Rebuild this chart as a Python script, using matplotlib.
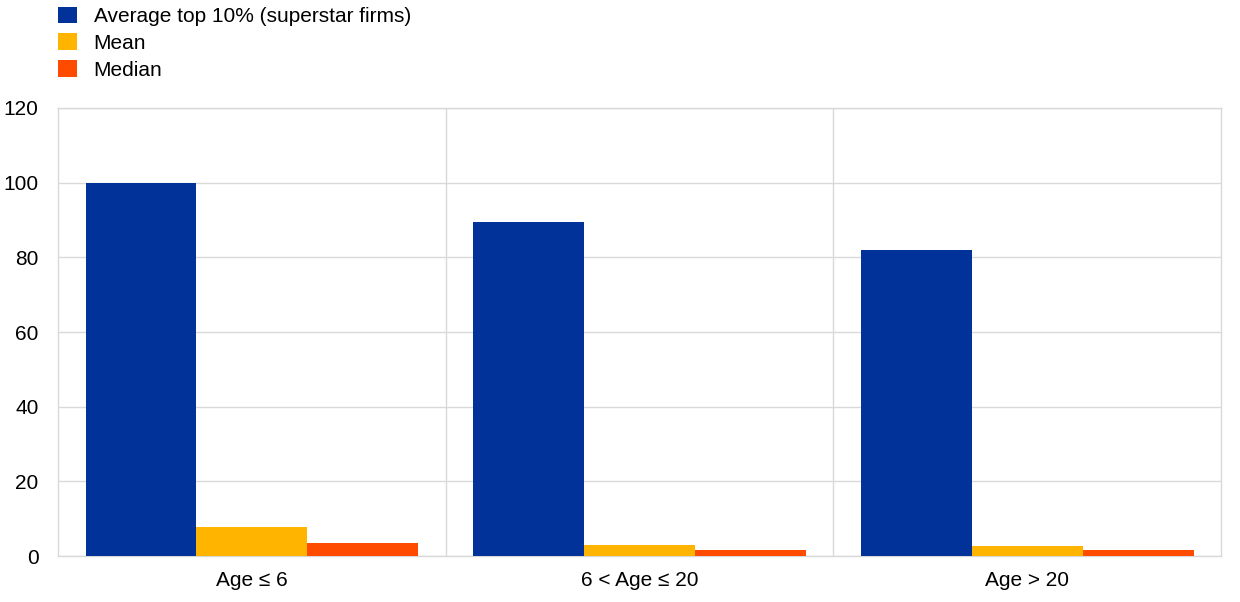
import matplotlib.pyplot as plt
import numpy as np

plt.rcParams['font.family'] = ['Liberation Sans', 'DejaVu Sans']

categories = ['Age \u2264 6', '6 < Age \u2264 20', 'Age > 20']
series = ['Average top 10% (superstar firms)', 'Mean', 'Median']
top10 = [100.0, 89.5, 82.0]
mean = [7.85, 3.0, 2.7]
median = [3.4, 1.5, 1.5]
colors = ['#003299', '#FFB400', '#FF4B00']

fig = plt.figure(figsize=(12.4, 6.02), dpi=100)
ax = fig.add_axes([0.0468, 0.0764, 0.9379, 0.7442])

x = np.arange(len(categories))
w = 0.286
for i, (vals, col, lab) in enumerate(zip([top10, mean, median], colors, series)):
    ax.bar(x + (i - 1) * w, vals, width=w, color=col, label=lab, zorder=3)

ax.set_xlim(-0.5, 2.5)
ax.set_ylim(0, 120)
ax.set_yticks(np.arange(0, 121, 20))
ax.set_xticks(x)
ax.set_xticklabels(categories)
ax.tick_params(axis='both', length=0, labelsize=15, colors='black')
ax.tick_params(axis='x', pad=11)
ax.tick_params(axis='y', pad=14)

ax.yaxis.grid(True, color='#d9d9d9', linewidth=1, zorder=0)
for b in [0.5, 1.5]:
    ax.axvline(b, color='#d9d9d9', linewidth=1, zorder=0)
for s in ax.spines.values():
    s.set_color('#d9d9d9')
    s.set_linewidth(1)

fig.legend(loc='upper left', bbox_to_anchor=(0.0404, 1.003), frameon=False,
           fontsize=15, handlelength=0.87, handleheight=0.87,
           handletextpad=0.82, labelspacing=0.35, borderaxespad=0)

fig.savefig('out.png', dpi=100)
